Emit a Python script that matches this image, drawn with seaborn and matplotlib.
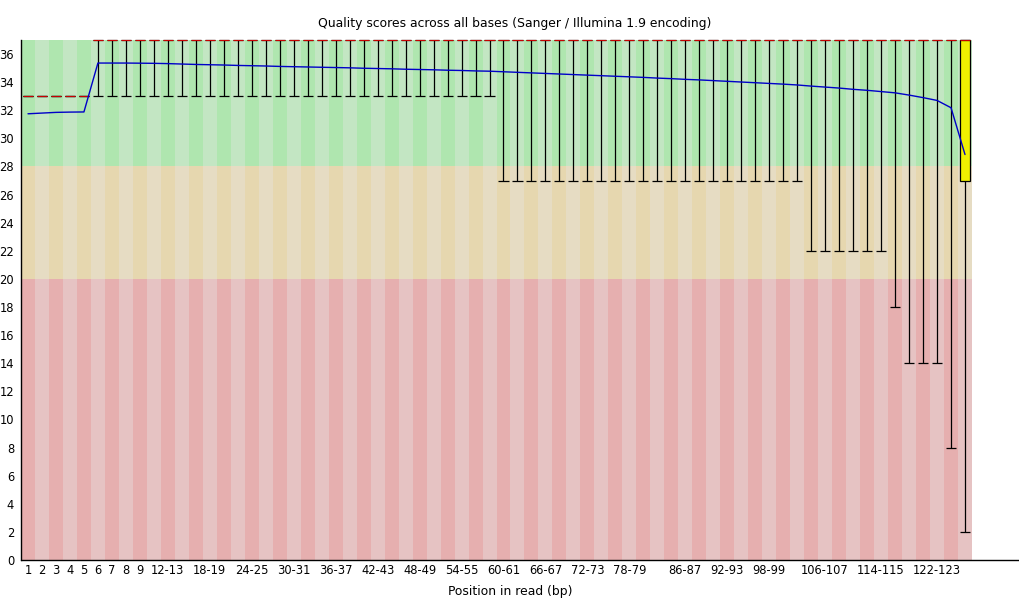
import numpy as np
import matplotlib
matplotlib.use("Agg")
import matplotlib.pyplot as plt
import seaborn as sns

# per-base quality summary (FastQC style), one entry per column
positions = ["1", "2", "3", "4", "5", "6", "7", "8", "9",
             "10-11", "12-13", "14-15", "16-17", "18-19", "20-21", "22-23", "24-25",
             "26-27", "28-29", "30-31", "32-33", "34-35", "36-37", "38-39", "40-41",
             "42-43", "44-45", "46-47", "48-49", "50-51", "52-53", "54-55", "56-57",
             "58-59", "60-61", "62-63", "64-65", "66-67", "68-69", "70-71", "72-73",
             "74-75", "76-77", "78-79", "80-81", "82-83", "84-85", "86-87", "88-89",
             "90-91", "92-93", "94-95", "96-97", "98-99", "100-101", "102-103",
             "104-105", "106-107", "108-109", "110-111", "112-113", "114-115",
             "116-117", "118-119", "120-121", "122-123", "124-125", "126-127"]

mean_q = [31.75, 31.80, 31.85, 31.87, 31.88, 35.36, 35.36, 35.36, 35.35, 35.34,
          35.32, 35.29, 35.26, 35.24, 35.22, 35.19, 35.17, 35.15, 35.12, 35.10,
          35.08, 35.06, 35.04, 35.02, 34.99, 34.97, 34.95, 34.92, 34.90, 34.88,
          34.85, 34.83, 34.80, 34.78, 34.74, 34.70, 34.66, 34.62, 34.58, 34.54,
          34.50, 34.46, 34.42, 34.38, 34.34, 34.29, 34.25, 34.20, 34.16, 34.11,
          34.06, 34.01, 33.96, 33.91, 33.86, 33.80, 33.72, 33.65, 33.58, 33.49,
          33.42, 33.33, 33.24, 33.08, 32.90, 32.70, 32.18, 28.85]

median_q = [33, 33, 33, 33, 33, 37, 37, 37, 37, 37, 37, 37, 37, 37, 37, 37, 37,
            37, 37, 37, 37, 37, 37, 37, 37, 37, 37, 37, 37, 37, 37, 37, 37, 37,
            37, 37, 37, 37, 37, 37, 37, 37, 37, 37, 37, 37, 37, 37, 37, 37, 37,
            37, 37, 37, 37, 37, 37, 37, 37, 37, 37, 37, 37, 37, 37, 37, 37, 37]

lower_quartile = [33, 33, 33, 33, 33, 37, 37, 37, 37, 37, 37, 37, 37, 37, 37, 37, 37,
                  37, 37, 37, 37, 37, 37, 37, 37, 37, 37, 37, 37, 37, 37, 37, 37, 37,
                  37, 37, 37, 37, 37, 37, 37, 37, 37, 37, 37, 37, 37, 37, 37, 37, 37,
                  37, 37, 37, 37, 37, 37, 37, 37, 37, 37, 37, 37, 37, 37, 37, 37, 27]

upper_quartile = [33, 33, 33, 33, 33, 37, 37, 37, 37, 37, 37, 37, 37, 37, 37, 37, 37,
                  37, 37, 37, 37, 37, 37, 37, 37, 37, 37, 37, 37, 37, 37, 37, 37, 37,
                  37, 37, 37, 37, 37, 37, 37, 37, 37, 37, 37, 37, 37, 37, 37, 37, 37,
                  37, 37, 37, 37, 37, 37, 37, 37, 37, 37, 37, 37, 37, 37, 37, 37, 37]

pct10 = [33, 33, 33, 33, 33, 33, 33, 33, 33, 33, 33, 33, 33, 33, 33, 33, 33,
         33, 33, 33, 33, 33, 33, 33, 33, 33, 33, 33, 33, 33, 33, 33, 33, 33,
         27, 27, 27, 27, 27, 27, 27, 27, 27, 27, 27, 27, 27, 27, 27, 27, 27,
         27, 27, 27, 27, 27, 22, 22, 22, 22, 22, 22, 18, 14, 14, 14, 8, 2]

pct90 = upper_quartile

shown_ticks = ["1", "2", "3", "4", "5", "6", "7", "8", "9", "12-13", "18-19",
               "24-25", "30-31", "36-37", "42-43", "48-49", "54-55", "60-61",
               "66-67", "72-73", "78-79", "86-87", "92-93", "98-99", "106-107",
               "114-115", "122-123"]

sns.set_style("white")
plt.rcParams['font.family'] = ['DejaVu Sans']
plt.rcParams['text.color'] = 'black'

fig = plt.figure(figsize=(10.2, 6), dpi=100)
ax = fig.add_axes([21/1020, 40/600, 951/1020, 520/600])

x = np.arange(len(positions))
even = x % 2 == 0
ax.bar(x, 20, bottom=0, width=1.0,
       color=np.where(even, '#E6AFAF', '#E6C3C3'), linewidth=0)
ax.bar(x, 8, bottom=20, width=1.0,
       color=np.where(even, '#E6D7AF', '#E6DCC3'), linewidth=0)
ax.bar(x, 9.5, bottom=28, width=1.0,
       color=np.where(even, '#AFE6AF', '#C3E6C3'), linewidth=0)

lo = np.array(pct10)
hi = np.array(pct90)
q1 = np.array(lower_quartile)
q3 = np.array(upper_quartile)
hw = 0.36

ax.vlines(x, lo, hi, color='black', lw=0.9, zorder=3)
ax.hlines(lo, x - hw, x + hw, color='black', lw=0.9, zorder=3)
ax.hlines(hi, x - hw, x + hw, color='black', lw=0.9, zorder=3, clip_on=False)

box = q3 > q1
ax.bar(x[box], (q3 - q1)[box], bottom=q1[box], width=2*hw, color='#F0F000',
       edgecolor='black', linewidth=0.9, zorder=4, clip_on=False)

ax.hlines(median_q, x - hw, x + hw, color='#C80000', lw=0.8, zorder=5, clip_on=False)

sns.lineplot(x=x, y=mean_q, color='#0000C8', lw=1.0, ax=ax, zorder=6)

ax.set_xlim(-0.5, len(positions) - 0.5)
ax.set_ylim(0, 37)
ax.set_yticks(np.arange(0, 37, 2))
ax.set_xticks([positions.index(t) for t in shown_ticks])
ax.set_xticklabels(shown_ticks)
ax.tick_params(axis='both', length=0, labelsize=8.3, colors='black')
ax.tick_params(axis='y', pad=5)
ax.tick_params(axis='x', pad=3)

for s in ['top', 'right', 'bottom']:
    ax.spines[s].set_visible(False)
ax.spines['left'].set_color('black')
ax.spines['left'].set_linewidth(1.0)
ax.axhline(0, xmin=0, xmax=(1020 - 21) / 951, color='black', lw=1.0, clip_on=False, zorder=7)

ax.set_xlabel('')
ax.set_ylabel('')
fig.text(0.505, 1 - 24/600, 'Quality scores across all bases (Sanger / Illumina 1.9 encoding)',
         ha='center', va='center', fontsize=8.9, color='black')
fig.text(0.5, 1 - 591/600, 'Position in read (bp)', ha='center', va='center',
         fontsize=8.9, color='black')

fig.savefig('out.png', dpi=100)
